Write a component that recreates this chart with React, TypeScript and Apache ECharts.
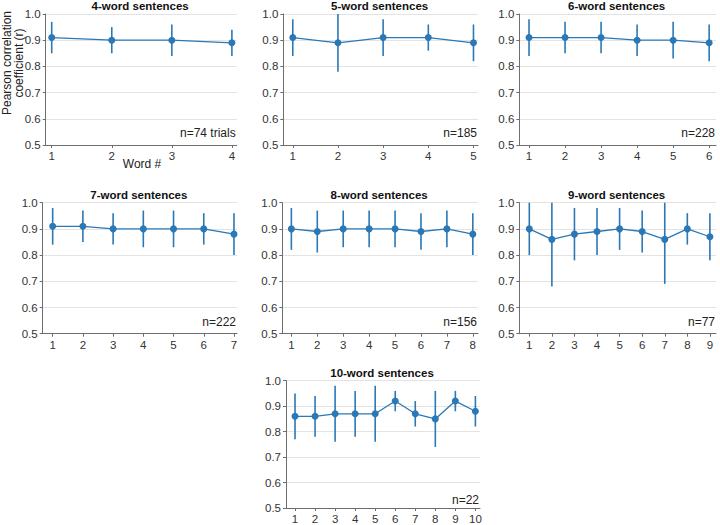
import React, { useEffect, useRef } from "react";
import * as echarts from "echarts";

// ---- data ----
const titles = [
  "4-word sentences",
  "5-word sentences",
  "6-word sentences",
  "7-word sentences",
  "8-word sentences",
  "9-word sentences",
  "10-word sentences",
];
const nLabels = ["n=74 trials", "n=185", "n=228", "n=222", "n=156", "n=77", "n=22"];

const mean4 = [0.91, 0.9, 0.9, 0.89];
const lo4 = [0.85, 0.85, 0.84, 0.84];
const hi4 = [0.97, 0.95, 0.96, 0.94];

const mean5 = [0.91, 0.89, 0.91, 0.91, 0.89];
const lo5 = [0.84, 0.78, 0.84, 0.86, 0.82];
const hi5 = [0.98, 1.0, 0.98, 0.96, 0.96];

const mean6 = [0.91, 0.91, 0.91, 0.9, 0.9, 0.89];
const lo6 = [0.84, 0.85, 0.85, 0.84, 0.83, 0.82];
const hi6 = [0.98, 0.97, 0.97, 0.96, 0.97, 0.96];

const mean7 = [0.91, 0.91, 0.9, 0.9, 0.9, 0.9, 0.88];
const lo7 = [0.84, 0.85, 0.84, 0.83, 0.83, 0.84, 0.8];
const hi7 = [0.98, 0.97, 0.96, 0.97, 0.97, 0.96, 0.96];

const mean8 = [0.9, 0.89, 0.9, 0.9, 0.9, 0.89, 0.9, 0.88];
const lo8 = [0.82, 0.81, 0.83, 0.83, 0.83, 0.82, 0.83, 0.8];
const hi8 = [0.98, 0.97, 0.97, 0.97, 0.97, 0.96, 0.97, 0.96];

const mean9 = [0.9, 0.86, 0.88, 0.89, 0.9, 0.89, 0.86, 0.9, 0.87];
const lo9 = [0.8, 0.68, 0.78, 0.8, 0.82, 0.81, 0.69, 0.84, 0.78];
const hi9 = [1.0, 1.0, 0.98, 0.98, 0.98, 0.97, 1.0, 0.96, 0.96];

const mean10 = [0.86, 0.86, 0.87, 0.87, 0.87, 0.92, 0.87, 0.85, 0.92, 0.88];
const lo10 = [0.77, 0.78, 0.76, 0.78, 0.76, 0.88, 0.82, 0.74, 0.88, 0.82];
const hi10 = [0.95, 0.94, 0.98, 0.96, 0.98, 0.96, 0.92, 0.96, 0.96, 0.94];

const yTicks = [0.5, 0.6, 0.7, 0.8, 0.9, 1.0];

const means = [mean4, mean5, mean6, mean7, mean8, mean9, mean10];
const los = [lo4, lo5, lo6, lo7, lo8, lo9, lo10];
const his = [hi4, hi5, hi6, hi7, hi8, hi9, hi10];

// ---- layout ----
const panels = [
  { left: 45.7, top: 14, width: 191, xmin: 0.9, xmax: 4.08 },
  { left: 283.3, top: 14, width: 194.7, xmin: 0.79, xmax: 5.1 },
  { left: 519.3, top: 14, width: 196.7, xmin: 0.73, xmax: 6.19 },
  { left: 42.7, top: 202.7, width: 194.3, xmin: 0.67, xmax: 7.1 },
  { left: 282.3, top: 202.7, width: 195.7, xmin: 0.65, xmax: 8.2 },
  { left: 519.3, top: 202.7, width: 196.7, xmin: 0.557, xmax: 9.27 },
  { left: 286, top: 380.7, width: 194, xmin: 0.55, xmax: 10.23 },
];
const PH = 131;

const BLUE = "#2a78b6";
const FONT = "Liberation Sans, Arial, sans-serif";

export default function App() {
  const ref = useRef<HTMLDivElement>(null);
  useEffect(() => {
    if (!ref.current) return;
    const chart = echarts.init(ref.current, null, { renderer: "svg" });

    const grid: any[] = [];
    const xAxis: any[] = [];
    const yAxis: any[] = [];
    const series: any[] = [];
    const title: any[] = [];
    const graphic: any[] = [];

    panels.forEach((p, i) => {
      const words = means[i].map((_, k) => k + 1);
      grid.push({ left: p.left, top: p.top, width: p.width, height: PH, containLabel: false });
      xAxis.push({
        gridIndex: i,
        type: "value",
        min: p.xmin,
        max: p.xmax,
        axisLine: { show: true, lineStyle: { color: "#6e6e6e", width: 1 } },
        axisTick: { show: true, customValues: words, length: 3, lineStyle: { color: "#6e6e6e" } },
        axisLabel: {
          customValues: words,
          color: "#333",
          fontSize: 11.5,
          fontFamily: FONT,
          margin: 5,
        },
        splitLine: { show: false },
      });
      yAxis.push({
        gridIndex: i,
        type: "value",
        min: 0.5,
        max: 1.0,
        interval: 0.1,
        axisLine: { show: true, lineStyle: { color: "#6e6e6e", width: 1 } },
        axisTick: { show: true, length: 3, lineStyle: { color: "#6e6e6e" } },
        axisLabel: {
          color: "#333",
          fontSize: 11.5,
          fontFamily: FONT,
          margin: 5,
          formatter: (v: number) => v.toFixed(1),
        },
        splitLine: { show: true, lineStyle: { color: "#e3e3e3", width: 1 } },
      });
      series.push({
        type: "custom",
        xAxisIndex: i,
        yAxisIndex: i,
        data: words.map((w, k) => [w, los[i][k], his[i][k]]),
        encode: { x: 0, y: [1, 2] },
        renderItem: (_params: any, api: any) => {
          const x = api.value(0);
          const a = api.coord([x, api.value(1)]);
          const b = api.coord([x, api.value(2)]);
          return {
            type: "line",
            shape: { x1: a[0], y1: a[1], x2: b[0], y2: b[1] },
            style: { stroke: BLUE, lineWidth: 1.6 },
          };
        },
        z: 2,
      });
      series.push({
        type: "line",
        xAxisIndex: i,
        yAxisIndex: i,
        data: words.map((w, k) => [w, means[i][k]]),
        symbol: "circle",
        symbolSize: 7,
        itemStyle: { color: BLUE },
        lineStyle: { color: BLUE, width: 1.3 },
        z: 3,
      });
      title.push({
        text: titles[i],
        left: p.left + p.width / 2 - 1,
        top: p.top - 14,
        textAlign: "center",
        textStyle: { fontSize: 11.5, fontWeight: "bold", color: "#111", fontFamily: FONT },
        padding: 0,
      });
      graphic.push({
        type: "text",
        right: 720 - (p.left + p.width) + 1,
        top: p.top + PH - 18,
        style: { text: nLabels[i], fill: "#222", fontSize: 12, fontFamily: FONT },
      });
    });

    graphic.push({
      type: "text",
      x: 142,
      y: 164,
      style: {
        text: "Word #",
        fill: "#222",
        fontSize: 12,
        fontFamily: FONT,
        textAlign: "center",
        textVerticalAlign: "middle",
      },
    });
    graphic.push({
      type: "text",
      x: 13,
      y: 63,
      rotation: Math.PI / 2,
      style: {
        text: "Pearson correlation\ncoefficient (r)",
        fill: "#222",
        fontSize: 12,
        fontFamily: FONT,
        textAlign: "center",
        textVerticalAlign: "middle",
        lineHeight: 12.5,
      },
    });

    chart.setOption({
      animation: false,
      backgroundColor: "#fff",
      title,
      grid,
      xAxis,
      yAxis,
      series,
      graphic,
    });
    return () => chart.dispose();
  }, []);
  return (
    <div
      ref={ref}
      style={{ position: "fixed", left: 0, top: 0, width: 720, height: 525 }}
    />
  );
}
